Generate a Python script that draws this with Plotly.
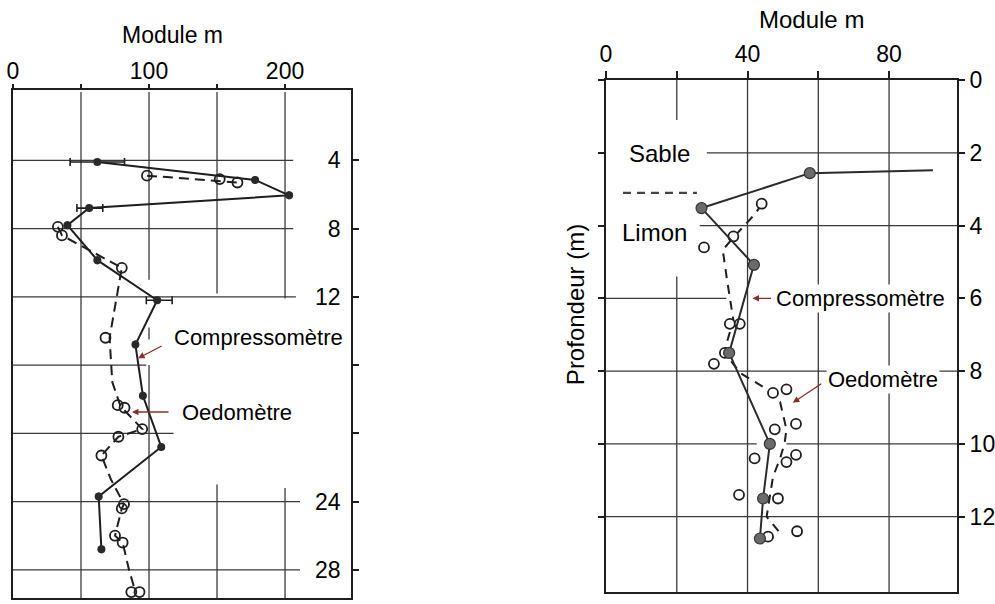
import plotly.graph_objects as go

# ---------------- Left panel data ----------------
left_comp_module = [62, 178, 203, 56, 40, 62, 106, 90, 95.5, 109, 63, 65]
left_comp_depth = [4.1, 5.15, 6.05, 6.8, 7.8, 9.85, 12.2, 14.8, 17.8, 20.8, 23.7, 26.8]
left_comp_err_plus = [20, 0, 0, 10, 0, 0, 11, 0, 0, 0, 0, 0]
left_comp_err_minus = [20, 0, 0, 9, 0, 0, 8, 0, 0, 0, 0, 0]

left_oedo_module = [98.5, 152, 165, 33, 36, 80, 68, 77, 82, 95, 77.5, 65, 81.6, 80, 75, 80.6, 87, 93]
left_oedo_depth = [4.9, 5.1, 5.3, 7.9, 8.4, 10.3, 14.4, 18.35, 18.5, 19.75, 20.2, 21.3, 24.15, 24.4, 26.0, 26.4, 29.3, 29.3]

left_oedo_trend_module = [98.5, 165, None, 33, 36, 80, 71, 73, 79, 95, 77.5, 65, 72, 81.6, 80, 75, 80.6, 85, 90]
left_oedo_trend_depth = [4.9, 5.3, None, 7.9, 8.4, 10.3, 14.4, 17.0, 18.4, 19.75, 20.2, 21.3, 22.7, 24.15, 24.4, 26.0, 26.4, 27.9, 29.3]

left_x_ticks = [0, 50, 100, 150, 200]
left_x_labels = ["0", "", "100", "", "200"]
left_y_ticks = [4, 8, 12, 16, 20, 24, 28]
left_y_labels = ["4", "8", "12", "", "", "24", "28"]

# ---------------- Right panel data ----------------
right_comp_module = [92.4, 57.6, 27, 41.8, 34.8, 46.3, 44.4, 43.5]
right_comp_depth = [2.48, 2.56, 3.52, 5.08, 7.5, 10.0, 11.5, 12.6]

right_oedo_module = [44, 36, 27.7, 35, 37.8, 33.6, 30.5, 47.2, 51, 47.7, 53.7, 42, 51, 53.7, 37.6, 48.6, 45.8, 54]
right_oedo_depth = [3.4, 4.3, 4.6, 6.7, 6.7, 7.5, 7.8, 8.6, 8.5, 9.6, 9.45, 10.4, 10.5, 10.3, 11.4, 11.5, 12.55, 12.4]

right_oedo_trend_module = [44, 42.4, 35.9, 33, 34.2, 35, 36, 34.2, 33.6, 37.9, 44.4, 49.2, 51, 50.5, 49.2, 47.2, 45.4, 50]
right_oedo_trend_depth = [3.4, 3.65, 4.34, 4.67, 5.49, 5.96, 6.6, 7.2, 7.5, 8.05, 8.43, 8.85, 9.6, 9.97, 10.4, 10.9, 12.0, 12.55]

right_x_ticks = [0, 20, 40, 60, 80]
right_x_labels = ["0", "", "40", "", "80"]
right_y_ticks = [0, 2, 4, 6, 8, 10, 12]
right_y_labels = ["0", "2", "4", "6", "8", "10", "12"]

# ---------------- Styling constants ----------------
FONT = "Liberation Sans, Arial, sans-serif"
INK = "#1e1e1e"
GRID = "#3a3a3a"
ARROW = "#8e2b2b"
LEFT_RANGE_X = [0, 248.5]
LEFT_RANGE_Y = [29.65, -0.12]
RIGHT_RANGE_X = [0, 99.2]
RIGHT_RANGE_Y = [14.07, 0]

# grid segments drawn like the hand-drawn original (with gaps)
left_vgrid = [(50, 0, 29.65), (100, 0, 11.0), (100, 13.8, 14.5), (100, 16.0, 29.65),
              (150, 0, 11.8), (150, 23.0, 29.65), (200, 0, 12.1), (200, 23.2, 29.65)]
left_hgrid = [(4, 0, 206), (8, 0, 206), (12, 0, 208), (16, 0, 98), (20, 0, 118),
              (24, 0, 211), (28, 0, 211)]
right_vgrid = [(20, 0, 1.1), (20, 5.4, 14.07), (40, 0, 14.07), (60, 0, 14.07), (80, 0, 14.07)]
right_hgrid = [(2, 28.5, 99.2), (4, 26.5, 99.2), (6, 0, 34), (8, 0, 99.2),
               (10, 0, 42.6), (10, 51, 99.2), (12, 0, 99.2)]

fig = go.Figure()

# ---- Left traces ----
fig.add_trace(go.Scatter(
    x=left_oedo_trend_module, y=left_oedo_trend_depth,
    mode="lines", line=dict(color=INK, width=2, dash="10px,6px"),
    xaxis="x", yaxis="y", hoverinfo="skip", showlegend=False))
fig.add_trace(go.Scatter(
    x=left_oedo_module, y=left_oedo_depth, mode="markers",
    marker=dict(symbol="circle-open", size=10, color=INK, line=dict(width=1.8)),
    xaxis="x", yaxis="y", name="Oedomètre", showlegend=False))
fig.add_trace(go.Scatter(
    x=left_comp_module, y=left_comp_depth, mode="lines+markers",
    line=dict(color=INK, width=2),
    marker=dict(symbol="circle", size=8, color="#2a2a2a"),
    error_x=dict(type="data", symmetric=False, array=left_comp_err_plus,
                 arrayminus=left_comp_err_minus, color=INK, thickness=1.6, width=4),
    xaxis="x", yaxis="y", name="Compressomètre", showlegend=False))

# ---- Right traces ----
fig.add_trace(go.Scatter(
    x=right_oedo_trend_module, y=right_oedo_trend_depth,
    mode="lines", line=dict(color=INK, width=2, dash="9px,7px"),
    xaxis="x2", yaxis="y2", hoverinfo="skip", showlegend=False))
fig.add_trace(go.Scatter(
    x=right_oedo_module, y=right_oedo_depth, mode="markers",
    marker=dict(symbol="circle", size=10, color="white", line=dict(width=1.8, color=INK)),
    xaxis="x2", yaxis="y2", name="Oedomètre", showlegend=False))
fig.add_trace(go.Scatter(
    x=right_comp_module, y=right_comp_depth, mode="lines",
    line=dict(color="#2b2b2b", width=2),
    xaxis="x2", yaxis="y2", hoverinfo="skip", showlegend=False))
fig.add_trace(go.Scatter(
    x=right_comp_module[1:], y=right_comp_depth[1:], mode="markers",
    marker=dict(symbol="circle", size=11, color="#6a6a6a", line=dict(width=1.2, color="#333")),
    xaxis="x2", yaxis="y2", name="Compressomètre", showlegend=False))

# ---- Grid shapes ----
shapes = []
for x, d0, d1 in left_vgrid:
    shapes.append(dict(type="line", xref="x", yref="y", x0=x, x1=x, y0=d0, y1=d1,
                       line=dict(color=GRID, width=1.3), layer="below"))
for d, x0, x1 in left_hgrid:
    shapes.append(dict(type="line", xref="x", yref="y", x0=x0, x1=x1, y0=d, y1=d,
                       line=dict(color=GRID, width=1.3), layer="below"))
for x, d0, d1 in right_vgrid:
    shapes.append(dict(type="line", xref="x2", yref="y2", x0=x, x1=x, y0=d0, y1=d1,
                       line=dict(color=GRID, width=1.3), layer="below"))
for d, x0, x1 in right_hgrid:
    shapes.append(dict(type="line", xref="x2", yref="y2", x0=x0, x1=x1, y0=d, y1=d,
                       line=dict(color=GRID, width=1.3), layer="below"))
# Sable / Limon boundary
shapes.append(dict(type="line", xref="x2", yref="y2", x0=4.8, x1=25.7, y0=3.1, y1=3.1,
                   line=dict(color="#444", width=2.2, dash="8px,6px")))

# ---- Annotations ----
ann = []
ann.append(dict(text="Module m", xref="paper", yref="paper", x=0.173, y=0.942,
                xanchor="center", yanchor="middle",
                showarrow=False, font=dict(size=23, color="black", family=FONT)))
ann.append(dict(text="Module m", xref="paper", yref="paper", x=0.816, y=0.967,
                xanchor="center", yanchor="middle",
                showarrow=False, font=dict(size=24, color="black", family=FONT)))
ann.append(dict(text="Profondeur (m)", xref="paper", yref="paper", x=0.578, y=0.495,
                xanchor="center", yanchor="middle",
                textangle=-90, showarrow=False, font=dict(size=24, color="black", family=FONT)))
# left labels
ann.append(dict(text="Compressomètre", xref="x", yref="y", x=117, y=14.4, xanchor="left",
                showarrow=False, font=dict(size=22, color="black", family=FONT)))
ann.append(dict(text="", xref="x", yref="y", x=92, y=15.6, ax=25, ay=-13,
                showarrow=True, arrowhead=2, arrowsize=1, arrowwidth=1.3, arrowcolor=ARROW))
ann.append(dict(text="Oedomètre", xref="x", yref="y", x=123, y=18.75, xanchor="left",
                showarrow=False, font=dict(size=22, color="black", family=FONT)))
ann.append(dict(text="", xref="x", yref="y", x=87.5, y=18.75, ax=38, ay=0,
                showarrow=True, arrowhead=2, arrowsize=1, arrowwidth=1.3, arrowcolor=ARROW))
# right labels
ann.append(dict(text="Sable", xref="x2", yref="y2", x=5.9, y=2.03, xanchor="left",
                showarrow=False, font=dict(size=24, color="black", family=FONT)))
ann.append(dict(text="Limon", xref="x2", yref="y2", x=4.0, y=4.18, xanchor="left",
                showarrow=False, font=dict(size=24, color="black", family=FONT)))
ann.append(dict(text="Compressomètre", xref="x2", yref="y2", x=47.5, y=6.0, xanchor="left",
                showarrow=False, bgcolor="white", borderpad=1,
                font=dict(size=22, color="black", family=FONT)))
ann.append(dict(text="", xref="x2", yref="y2", x=41.4, y=6.0, ax=20, ay=0,
                showarrow=True, arrowhead=2, arrowsize=1, arrowwidth=1.3, arrowcolor=ARROW))
ann.append(dict(text="Oedomètre", xref="x2", yref="y2", x=62.2, y=8.22, xanchor="left",
                showarrow=False, bgcolor="white", borderpad=1,
                font=dict(size=22, color="black", family=FONT)))
ann.append(dict(text="", xref="x2", yref="y2", x=52.8, y=8.87, ax=30, ay=-20,
                showarrow=True, arrowhead=2, arrowsize=1, arrowwidth=1.3, arrowcolor=ARROW))

axis_common = dict(showgrid=False, zeroline=False, showline=True, linecolor=INK,
                   linewidth=2, tickcolor=INK, tickwidth=1.5, automargin=False,
                   tickfont=dict(size=23, color="black", family=FONT))

fig.update_layout(
    width=995, height=604,
    margin=dict(l=0, r=0, t=0, b=0, autoexpand=False),
    paper_bgcolor="white", plot_bgcolor="white",
    font=dict(family=FONT, color="black"),
    showlegend=False,
    shapes=shapes, annotations=ann,
    xaxis=dict(domain=[13 / 995, 351 / 995], range=LEFT_RANGE_X, side="top",
               tickmode="array", tickvals=left_x_ticks, ticktext=left_x_labels,
               ticks="outside", ticklen=4, mirror=True, anchor="y",
               ticklabelstandoff=-4, **axis_common),
    yaxis=dict(domain=[1 - 598 / 604, 1 - 90 / 604], range=LEFT_RANGE_Y, side="right",
               tickmode="array", tickvals=left_y_ticks, ticktext=left_y_labels,
               ticks="outside", ticklen=6, ticklabelposition="inside", mirror=True,
               ticklabelstandoff=12, anchor="x", **axis_common),
    xaxis2=dict(domain=[606 / 995, 957 / 995], range=RIGHT_RANGE_X, side="top",
                tickmode="array", tickvals=right_x_ticks, ticktext=right_x_labels,
                ticks="outside", ticklen=7, mirror=True, anchor="y2",
                ticklabelstandoff=0, **axis_common),
    yaxis2=dict(domain=[1 - 592 / 604, 1 - 80 / 604], range=RIGHT_RANGE_Y, side="right",
                tickmode="array", tickvals=right_y_ticks, ticktext=right_y_labels,
                ticks="outside", ticklen=6, mirror="ticks", anchor="x2",
                ticklabelstandoff=0, **axis_common),
)

fig.write_html("out.html", config={"displayModeBar": False},
               post_script="document.body.style.margin='0';")
